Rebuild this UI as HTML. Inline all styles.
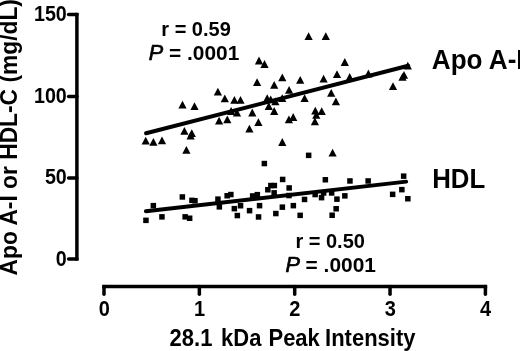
<!DOCTYPE html>
<html><head><meta charset="utf-8"><title>Figure</title>
<style>
html,body{margin:0;padding:0;background:#fff;}
body{width:520px;height:351px;overflow:hidden;}
svg{display:block;}
text{font-family:"Liberation Sans",sans-serif;font-weight:bold;fill:#000;}
</style></head><body>
<svg width="520" height="351" viewBox="0 0 520 351">
<rect width="520" height="351" fill="#fff"/>

<g stroke="#000" stroke-width="3.5" fill="none" stroke-linecap="butt">
<path d="M76.9 12.8V260.7"/>
<path d="M68.6 14.5H76.9" stroke-linecap="round"/>
<path d="M68.6 96.4H76.9" stroke-linecap="round"/>
<path d="M68.6 177.9H76.9" stroke-linecap="round"/>
<path d="M68.6 259.0H76.9" stroke-linecap="round"/>
<path d="M102.2 286.4H487.2"/>
<path d="M104.0 286.4V294.2" stroke-linecap="round"/>
<path d="M199.35 286.4V294.2" stroke-linecap="round"/>
<path d="M294.7 286.4V294.2" stroke-linecap="round"/>
<path d="M390.05 286.4V294.2" stroke-linecap="round"/>
<path d="M485.4 286.4V294.2" stroke-linecap="round"/>
</g>
<g stroke="#000" stroke-width="4" stroke-linecap="round">
<path d="M146.1 133.3L408.2 65.7"/>
<path d="M145.9 211.3L406.2 181.6" stroke-width="3.9"/>
</g>
<g fill="#000">
<path d="M145.7 136.7L149.8 144.5H141.6Z"/>
<path d="M153.4 137.9L157.5 145.7H149.3Z"/>
<path d="M162.0 136.4L166.1 144.2H157.9Z"/>
<path d="M182.5 100.7L186.6 108.5H178.4Z"/>
<path d="M194.5 102.2L198.6 110.0H190.4Z"/>
<path d="M184.4 126.9L188.5 134.7H180.3Z"/>
<path d="M191.8 129.3L195.9 137.1H187.7Z"/>
<path d="M190.6 131.7L194.7 139.5H186.5Z"/>
<path d="M186.4 145.9L190.5 153.7H182.3Z"/>
<path d="M217.9 87.7L222.0 95.5H213.8Z"/>
<path d="M224.8 94.5L228.9 102.3H220.7Z"/>
<path d="M234.4 95.9L238.5 103.7H230.3Z"/>
<path d="M240.5 95.9L244.6 103.7H236.4Z"/>
<path d="M219.1 116.8L223.2 124.6H215.0Z"/>
<path d="M227.3 115.4L231.4 123.2H223.2Z"/>
<path d="M231.1 107.1L235.2 114.9H227.0Z"/>
<path d="M237.0 108.7L241.1 116.5H232.9Z"/>
<path d="M252.3 108.6L256.4 116.4H248.2Z"/>
<path d="M258.4 118.3L262.5 126.1H254.3Z"/>
<path d="M249.4 124.8L253.5 132.6H245.3Z"/>
<path d="M259.0 56.6L263.1 64.4H254.9Z"/>
<path d="M264.5 60.1L268.6 67.9H260.4Z"/>
<path d="M257.1 78.2L261.2 86.0H253.0Z"/>
<path d="M274.2 80.9L278.3 88.7H270.1Z"/>
<path d="M282.3 73.5L286.4 81.3H278.2Z"/>
<path d="M267.2 94.3L271.3 102.1H263.1Z"/>
<path d="M270.7 95.4L274.8 103.2H266.6Z"/>
<path d="M275.4 97.4L279.5 105.2H271.3Z"/>
<path d="M282.2 94.2L286.3 102.0H278.1Z"/>
<path d="M268.8 102.2L272.9 110.0H264.7Z"/>
<path d="M274.2 107.1L278.3 114.9H270.1Z"/>
<path d="M289.1 85.9L293.2 93.7H285.0Z"/>
<path d="M300.2 75.9L304.3 83.7H296.1Z"/>
<path d="M308.6 32.3L312.7 40.1H304.5Z"/>
<path d="M325.8 32.3L329.9 40.1H321.7Z"/>
<path d="M323.6 74.7L327.7 82.5H319.5Z"/>
<path d="M304.6 94.2L308.7 102.0H300.5Z"/>
<path d="M293.2 113.1L297.3 120.9H289.1Z"/>
<path d="M288.9 115.4L293.0 123.2H284.8Z"/>
<path d="M282.3 138.1L286.4 145.9H278.2Z"/>
<path d="M315.3 106.8L319.4 114.6H311.2Z"/>
<path d="M321.7 107.2L325.8 115.0H317.6Z"/>
<path d="M316.3 110.9L320.4 118.7H312.2Z"/>
<path d="M314.9 117.4L319.0 125.2H310.8Z"/>
<path d="M331.2 89.0L335.3 96.8H327.1Z"/>
<path d="M335.9 97.5L340.0 105.3H331.8Z"/>
<path d="M332.6 148.8L336.7 156.6H328.5Z"/>
<path d="M344.8 58.1L348.9 65.9H340.7Z"/>
<path d="M337.0 70.2L341.1 78.0H332.9Z"/>
<path d="M349.7 73.1L353.8 80.9H345.6Z"/>
<path d="M368.4 69.6L372.5 77.4H364.3Z"/>
<path d="M407.8 61.8L411.9 69.6H403.7Z"/>
<path d="M404.0 71.0L408.1 78.8H399.9Z"/>
<path d="M402.5 72.9L406.6 80.7H398.4Z"/>
<path d="M393.0 82.3L397.1 90.1H388.9Z"/>
<rect x="143.2" y="217.6" width="5.5" height="5.5"/>
<rect x="150.6" y="202.9" width="5.5" height="5.5"/>
<rect x="159.2" y="214.1" width="5.5" height="5.5"/>
<rect x="179.6" y="194.2" width="5.5" height="5.5"/>
<rect x="189.2" y="197.6" width="5.5" height="5.5"/>
<rect x="192.2" y="198.0" width="5.5" height="5.5"/>
<rect x="182.4" y="214.1" width="5.5" height="5.5"/>
<rect x="186.9" y="215.5" width="5.5" height="5.5"/>
<rect x="215.2" y="196.4" width="5.5" height="5.5"/>
<rect x="216.6" y="204.1" width="5.5" height="5.5"/>
<rect x="224.4" y="193.0" width="5.5" height="5.5"/>
<rect x="228.1" y="191.8" width="5.5" height="5.5"/>
<rect x="231.6" y="205.9" width="5.5" height="5.5"/>
<rect x="237.8" y="203.0" width="5.5" height="5.5"/>
<rect x="234.6" y="212.8" width="5.5" height="5.5"/>
<rect x="246.8" y="207.9" width="5.5" height="5.5"/>
<rect x="249.9" y="193.2" width="5.5" height="5.5"/>
<rect x="254.6" y="191.9" width="5.5" height="5.5"/>
<rect x="256.8" y="202.9" width="5.5" height="5.5"/>
<rect x="255.8" y="214.2" width="5.5" height="5.5"/>
<rect x="261.6" y="160.8" width="5.5" height="5.5"/>
<rect x="265.1" y="187.0" width="5.5" height="5.5"/>
<rect x="268.1" y="182.8" width="5.5" height="5.5"/>
<rect x="271.6" y="182.8" width="5.5" height="5.5"/>
<rect x="271.4" y="190.1" width="5.5" height="5.5"/>
<rect x="273.1" y="210.8" width="5.5" height="5.5"/>
<rect x="279.9" y="176.7" width="5.5" height="5.5"/>
<rect x="279.6" y="204.4" width="5.5" height="5.5"/>
<rect x="286.4" y="185.2" width="5.5" height="5.5"/>
<rect x="286.2" y="192.8" width="5.5" height="5.5"/>
<rect x="290.6" y="202.9" width="5.5" height="5.5"/>
<rect x="297.4" y="212.6" width="5.5" height="5.5"/>
<rect x="301.8" y="196.7" width="5.5" height="5.5"/>
<rect x="305.9" y="152.6" width="5.5" height="5.5"/>
<rect x="312.4" y="191.8" width="5.5" height="5.5"/>
<rect x="318.8" y="194.9" width="5.5" height="5.5"/>
<rect x="320.9" y="190.2" width="5.5" height="5.5"/>
<rect x="322.6" y="177.0" width="5.5" height="5.5"/>
<rect x="328.9" y="190.2" width="5.5" height="5.5"/>
<rect x="334.2" y="196.4" width="5.5" height="5.5"/>
<rect x="333.4" y="206.0" width="5.5" height="5.5"/>
<rect x="329.4" y="212.5" width="5.5" height="5.5"/>
<rect x="342.1" y="193.1" width="5.5" height="5.5"/>
<rect x="347.2" y="178.2" width="5.5" height="5.5"/>
<rect x="365.4" y="178.2" width="5.5" height="5.5"/>
<rect x="400.9" y="173.4" width="5.5" height="5.5"/>
<rect x="399.1" y="186.9" width="5.5" height="5.5"/>
<rect x="389.9" y="191.6" width="5.5" height="5.5"/>
<rect x="405.1" y="196.0" width="5.5" height="5.5"/>
</g>
<g font-size="20" text-anchor="end">
<text transform="translate(66.8 21.3) scale(0.985 1.08)">150</text>
<text transform="translate(66.8 102.6) scale(0.985 1.08)">100</text>
<text transform="translate(66.8 184.3) scale(0.985 1.08)">50</text>
<text transform="translate(66.8 266.1) scale(0.985 1.08)">0</text>
</g>
<g font-size="20" text-anchor="middle">
<text transform="translate(104.20 315.6) scale(1 1.06)">0</text>
<text transform="translate(199.55 315.6) scale(1 1.06)">1</text>
<text transform="translate(294.90 315.6) scale(1 1.06)">2</text>
<text transform="translate(390.25 315.6) scale(1 1.06)">3</text>
<text transform="translate(485.60 315.6) scale(1 1.06)">4</text>
</g>
<text transform="translate(169.6 345.7) scale(1 1.05)" font-size="22">28.1 <tspan dx="2.6">kDa</tspan> <tspan dx="0.9">Peak</tspan> <tspan dx="-0.9">Intensity</tspan></text>
<text transform="translate(16.6 275.4) rotate(-90) scale(1 1.02)" font-size="22.8">Apo A-I or HDL-C (mg/dL)</text>
<text transform="translate(431.8 68.8) scale(0.985 1.02)" font-size="26.5">Apo A-I</text>
<text transform="translate(432.2 188.2) scale(0.975 1.035)" font-size="26.5">HDL</text>
<text x="161.3" y="36.0" font-size="20">r = 0.59</text>
<text x="149.2" y="60.4" font-size="20.9"><tspan font-style="italic" font-weight="normal" font-size="21.6" stroke="#000" stroke-width="0.7" dx="-0.4">P</tspan> = .0001</text>
<text x="295.4" y="247.5" font-size="20">r = 0.50</text>
<text x="285.8" y="271.7" font-size="20.9"><tspan font-style="italic" font-weight="normal" font-size="21.6" stroke="#000" stroke-width="0.7" dx="-0.4">P</tspan> = .0001</text>
</svg></body></html>
